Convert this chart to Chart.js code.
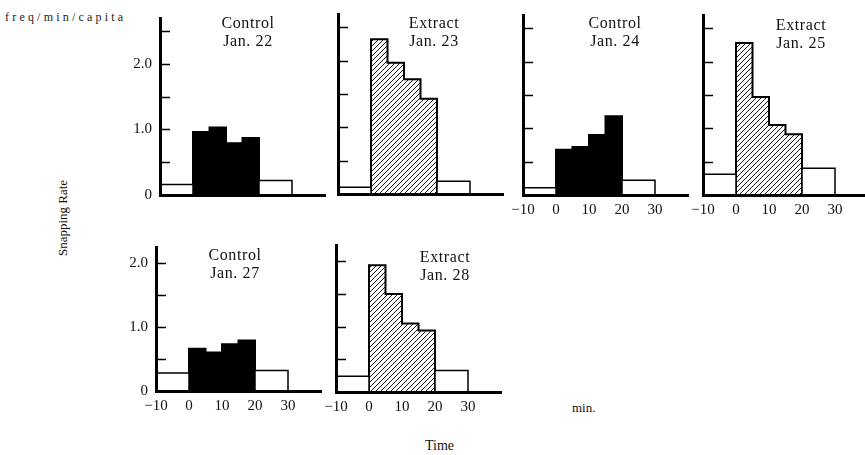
<!DOCTYPE html>
<html lang="en">
<head>
<meta charset="UTF-8">
<title>Snapping Rate - Control vs Extract</title>
<script src="https://cdn.jsdelivr.net/npm/chart.js"></script>
<style>
    html, body {
        margin: 0;
        padding: 0;
        background: #fff;
        overflow: hidden;
    }
    body {
        position: relative;
        width: 865px;
        height: 455px;
        font-family: 'Liberation Serif', 'DejaVu Serif', serif;
        color: #111;
    }
    canvas { position: absolute; }
    .txt { position: absolute; white-space: nowrap; }
    .title {
        position: absolute;
        transform: translateX(-50%);
        text-align: center;
        font-size: 16px;
        line-height: 18px;
        letter-spacing: 0.6px;
        white-space: nowrap;
    }
</style>
</head>
<body>
<div class="txt" style="left:5px; top:10px; font-size:12px; letter-spacing:3.2px; color:#222;">freq/min/capita</div>
<div class="txt" style="left:63px; top:218px; font-size:13px; transform:translate(-50%,-50%) rotate(-90deg);">Snapping Rate</div>
<div class="txt" style="left:572px; top:400px; font-size:13px;">min.</div>
<div class="txt" style="left:425px; top:438px; font-size:14px;">Time</div>

<script>
    // bin edges (minutes) and axis ticks
    const preEdges = [-10, 0];
    const binEdges = [0, 5, 10, 15, 20];
    const postEdges = [20, 30];
    const xTicks = [-10, 0, 10, 20, 30];
    const yLabels = [0, 1, 2];
    const yMarks = [0.5, 1.0, 1.5, 2.0, 2.5];

    const titles = ['Control', 'Extract', 'Control', 'Extract', 'Control', 'Extract'];
    const dates = ['Jan. 22', 'Jan. 23', 'Jan. 24', 'Jan. 25', 'Jan. 27', 'Jan. 28'];

    // snapping rate before (-10..0) and after (20..30) the treatment
    const preRate = [0.16, 0.10, 0.11, 0.31, 0.28, 0.24];
    const postRate = [0.22, 0.19, 0.22, 0.40, 0.32, 0.33];

    // snapping rate during treatment, 5-min bins
    const jan22 = [0.96, 1.03, 0.79, 0.87];
    const jan23 = [2.32, 1.97, 1.72, 1.43];
    const jan24 = [0.68, 0.72, 0.90, 1.18];
    const jan25 = [2.28, 1.47, 1.05, 0.91];
    const jan27 = [0.66, 0.60, 0.73, 0.79];
    const jan28 = [1.94, 1.50, 1.05, 0.94];
    const treatRates = [jan22, jan23, jan24, jan25, jan27, jan28];

    // panel placement on the page
    const PAD_TOP = 14, PAD_RIGHT = 12, Y_W = 45, X_H = 30, PLOT_W = 165;
    const panels = [
        { axisX: 160, top: 15,  plotH: 180, yMax: 2.7,  showY: true,  showX: false, tx: 248, ty: 14 },
        { axisX: 338, top: 14,  plotH: 180, yMax: 2.7,  showY: false, showX: false, tx: 434, ty: 14 },
        { axisX: 523, top: 15,  plotH: 180, yMax: 2.7,  showY: false, showX: true,  tx: 615, ty: 14 },
        { axisX: 703, top: 15,  plotH: 180, yMax: 2.7,  showY: false, showX: true,  tx: 801, ty: 16 },
        { axisX: 156, top: 244, plotH: 147, yMax: 2.25, showY: true,  showX: true,  tx: 235, ty: 246 },
        { axisX: 336, top: 245, plotH: 147, yMax: 2.25, showY: false, showX: true,  tx: 445, ty: 248 }
    ];

    function hatchPattern() {
        const c = document.createElement('canvas');
        c.width = 5; c.height = 5;
        const g = c.getContext('2d');
        g.strokeStyle = '#000';
        g.lineWidth = 0.9;
        g.beginPath();
        g.moveTo(0, 5); g.lineTo(5, 0);
        g.moveTo(-1, 1); g.lineTo(1, -1);
        g.moveTo(4, 6); g.lineTo(6, 4);
        g.stroke();
        return g.createPattern(c, 'repeat');
    }

    // histogram outline for a stepped line
    function outline(edges, values) {
        const pts = [{ x: edges[0], y: 0 }];
        values.forEach((v, i) => pts.push({ x: edges[i], y: v }));
        pts.push({ x: edges[edges.length - 1], y: values[values.length - 1] });
        pts.push({ x: edges[edges.length - 1], y: 0 });
        return pts;
    }

    // tick marks pointing into the plot
    const innerTicks = {
        id: 'innerTicks',
        afterDatasetsDraw(chart) {
            const { ctx, chartArea, scales: { y } } = chart;
            ctx.save();
            ctx.strokeStyle = '#000';
            ctx.lineWidth = 1.5;
            yMarks.filter(v => v < y.max).forEach(v => {
                const py = Math.round(y.getPixelForValue(v)) + 0.5;
                ctx.beginPath();
                ctx.moveTo(chartArea.left, py);
                ctx.lineTo(chartArea.left + 10, py);
                ctx.stroke();
            });
            ctx.restore();
        }
    };

    const font = { family: 'Liberation Serif', size: 15 };

    panels.forEach((p, i) => {
        const canvas = document.createElement('canvas');
        canvas.width = Y_W + PLOT_W + PAD_RIGHT;
        canvas.height = PAD_TOP + p.plotH + X_H;
        canvas.style.left = (p.axisX - Y_W) + 'px';
        canvas.style.top = (p.top - PAD_TOP) + 'px';
        document.body.appendChild(canvas);

        const t = document.createElement('div');
        t.className = 'title';
        t.style.left = p.tx + 'px';
        t.style.top = p.ty + 'px';
        t.innerHTML = titles[i] + '<br>' + dates[i];
        document.body.appendChild(t);

        const extract = titles[i] === 'Extract';
        const line = { stepped: 'before', pointRadius: 0, fill: 'origin', borderColor: '#000' };

        new Chart(canvas, {
            type: 'line',
            data: {
                datasets: [
                    { ...line, data: outline(preEdges, [preRate[i]]), borderWidth: 1.5, backgroundColor: '#fff' },
                    { ...line, data: outline(postEdges, [postRate[i]]), borderWidth: 1.5, backgroundColor: '#fff' },
                    { ...line, data: outline(binEdges, treatRates[i]), borderWidth: 2,
                      backgroundColor: extract ? hatchPattern() : '#000' }
                ]
            },
            options: {
                responsive: false,
                animation: false,
                events: [],
                layout: { padding: { top: PAD_TOP, right: PAD_RIGHT, left: 0, bottom: 0 } },
                plugins: {
                    legend: { display: false },
                    tooltip: { enabled: false }
                },
                scales: {
                    x: {
                        type: 'linear',
                        min: -10,
                        max: 40,
                        grid: { display: false, drawTicks: false },
                        border: { display: true, color: '#000', width: 3, z: 1 },
                        afterBuildTicks: s => { s.ticks = xTicks.map(v => ({ value: v })); },
                        afterFit: s => { s.height = X_H; },
                        ticks: {
                            display: p.showX,
                            padding: 6,
                            color: '#111',
                            font: font,
                            callback: v => v < 0 ? '\u2212' + Math.abs(v) : String(v)
                        }
                    },
                    y: {
                        min: 0,
                        max: p.yMax,
                        grid: { display: false, drawTicks: false },
                        border: { display: true, color: '#000', width: 3, z: 1 },
                        afterBuildTicks: s => { s.ticks = yLabels.map(v => ({ value: v })); },
                        afterFit: s => { s.width = Y_W; },
                        ticks: {
                            display: p.showY,
                            padding: 8,
                            color: '#111',
                            font: font,
                            callback: v => v === 0 ? '0' : v.toFixed(1)
                        }
                    }
                }
            },
            plugins: [innerTicks]
        });
    });
</script>
</body>
</html>
